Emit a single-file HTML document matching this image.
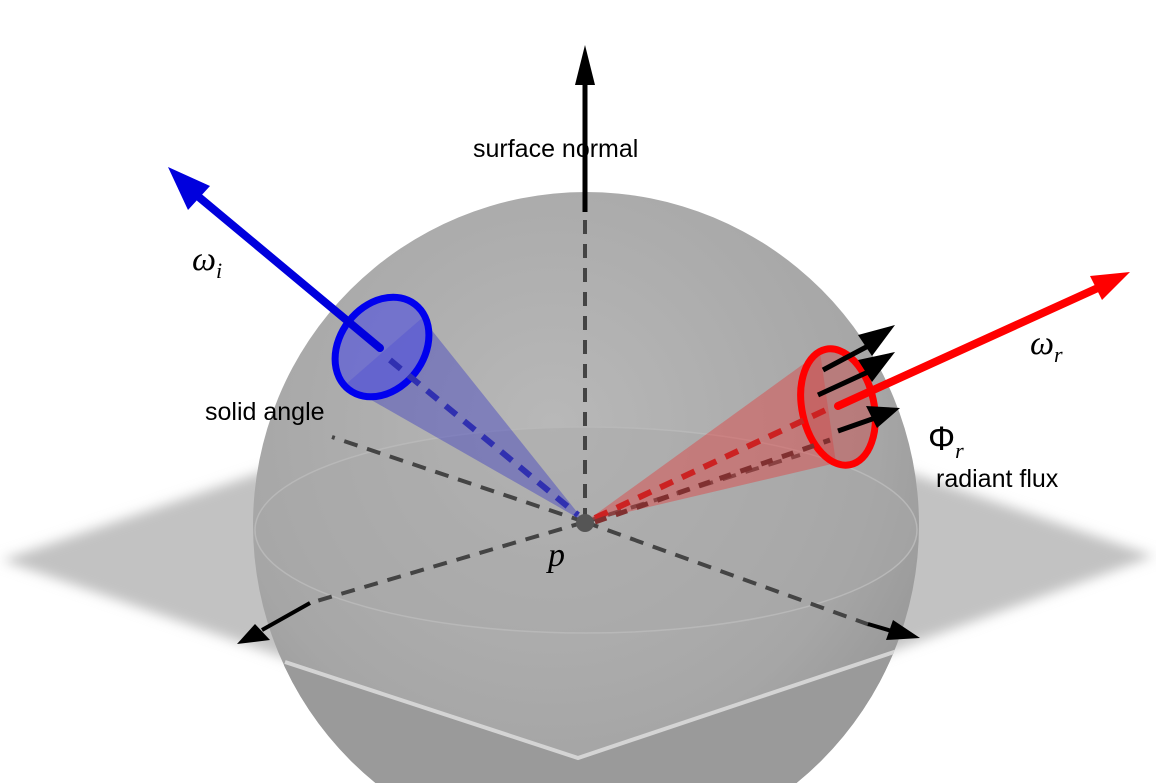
<!DOCTYPE html>
<html><head><meta charset="utf-8"><style>
html,body{margin:0;padding:0;background:#fff;overflow:hidden;width:1156px;height:783px;}
svg{display:block;overflow:hidden;}
text{font-family:"Liberation Sans","DejaVu Sans",sans-serif;}
.m{font-family:"Liberation Serif","DejaVu Serif",serif;font-style:italic;}
</style></head><body>
<svg width="1156" height="783" viewBox="0 0 1156 783">
<defs>
<radialGradient id="sph" cx="0.45" cy="0.35" r="0.7">
<stop offset="0" stop-color="#b8b8b8"/><stop offset="0.7" stop-color="#a6a6a6"/><stop offset="1" stop-color="#929292"/>
</radialGradient>
<filter id="bl" x="-5%" y="-10%" width="110%" height="120%"><feGaussianBlur stdDeviation="6"/></filter>
<clipPath id="sc"><circle cx="586" cy="525" r="333"/></clipPath>
<clipPath id="frame"><rect x="0" y="0" width="1156" height="783"/></clipPath>
</defs>
<g clip-path="url(#frame)">
<polygon points="2,560 586,362 1154,556 586,762" fill="#c2c2c2" filter="url(#bl)"/>
<circle cx="586" cy="525" r="333" fill="url(#sph)"/>
<g clip-path="url(#sc)">
<polygon points="285,662 578,758 900,650 900,783 250,783" fill="#9a9a9a"/>
<polyline points="285,662 578,758 900,650" fill="none" stroke="#d4d4d4" stroke-width="4"/>
</g>
<ellipse cx="586" cy="530" rx="331" ry="103" fill="#a8a8a8" fill-opacity="0.45" stroke="#b8b8b8" stroke-width="1.5"/>
<g stroke="#444" stroke-width="4" stroke-dasharray="14,10" fill="none">
<line x1="585" y1="522" x2="332" y2="437"/>
<line x1="585" y1="522" x2="800" y2="455"/>
<line x1="585" y1="522" x2="310" y2="603"/>
<line x1="585" y1="522" x2="870" y2="625"/>
<line x1="585" y1="522" x2="585" y2="212"/>
</g>
<line x1="310" y1="603" x2="262" y2="630" stroke="#000" stroke-width="4"/>
<polygon points="237,644 255,624 270,640" fill="#000"/>
<line x1="868" y1="624" x2="895" y2="632" stroke="#000" stroke-width="4"/>
<polygon points="920,638 893,620 886,640" fill="#000"/>
<line x1="585" y1="212" x2="585" y2="80" stroke="#000" stroke-width="5"/>
<polygon points="585,45 575,85 595,85" fill="#000"/>
<text x="473" y="157" font-size="25" fill="#000">surface normal</text>
<polygon points="585,522 345,385 422,318" fill="#4040c0" fill-opacity="0.45"/>
<ellipse cx="382" cy="347" rx="42" ry="54" transform="rotate(38 382 347)" fill="#5a5ad8" fill-opacity="0.7" stroke="#0000ee" stroke-width="7"/>
<line x1="390" y1="360" x2="578" y2="515" stroke="#3030b0" stroke-width="6" stroke-dasharray="14,10"/>
<line x1="380" y1="348" x2="200" y2="198" stroke="#0000dd" stroke-width="8" stroke-linecap="round"/>
<polygon points="168,167 188,210 210,186" fill="#0000dd"/>
<text class="m" x="192" y="270" font-size="34">ω<tspan font-size="22" dy="8">i</tspan></text>
<text x="205" y="420" font-size="25" fill="#000">solid angle</text>
<polygon points="585,522 820,352 836,463" fill="#e04040" fill-opacity="0.45"/>
<ellipse cx="838" cy="407" rx="36" ry="59" transform="rotate(-12 838 407)" fill="#c85050" fill-opacity="0.5" stroke="#ff0000" stroke-width="7"/>
<line x1="595" y1="518" x2="830" y2="408" stroke="#cc2222" stroke-width="6" stroke-dasharray="14,10"/>
<line x1="595" y1="522" x2="830" y2="440" stroke="#803030" stroke-width="5" stroke-dasharray="12,10"/>
<g stroke="#000" stroke-width="5">
<line x1="823" y1="370" x2="870" y2="345"/><polygon points="895,325 858,335 872,356" fill="#000" stroke="none"/>
<line x1="818" y1="395" x2="868" y2="372"/><polygon points="895,352 858,360 872,382" fill="#000" stroke="none"/>
<line x1="838" y1="431" x2="875" y2="418"/><polygon points="900,408 866,406 877,428" fill="#000" stroke="none"/>
</g>
<line x1="838" y1="406" x2="1100" y2="287" stroke="#ff0000" stroke-width="8" stroke-linecap="round"/>
<polygon points="1130,272 1090,276 1102,300" fill="#ff0000"/>
<text class="m" x="1030" y="354" font-size="34">ω<tspan font-size="22" dy="8">r</tspan></text>
<text x="928" y="450" font-size="34" font-family="Liberation Serif,serif">Φ<tspan class="m" font-size="22" dy="8">r</tspan></text>
<text x="936" y="487" font-size="25" fill="#000">radiant flux</text>
<circle cx="585" cy="523" r="9" fill="#555"/>
<text class="m" x="548" y="566" font-size="34">p</text>
</g>
</svg>
</body></html>
